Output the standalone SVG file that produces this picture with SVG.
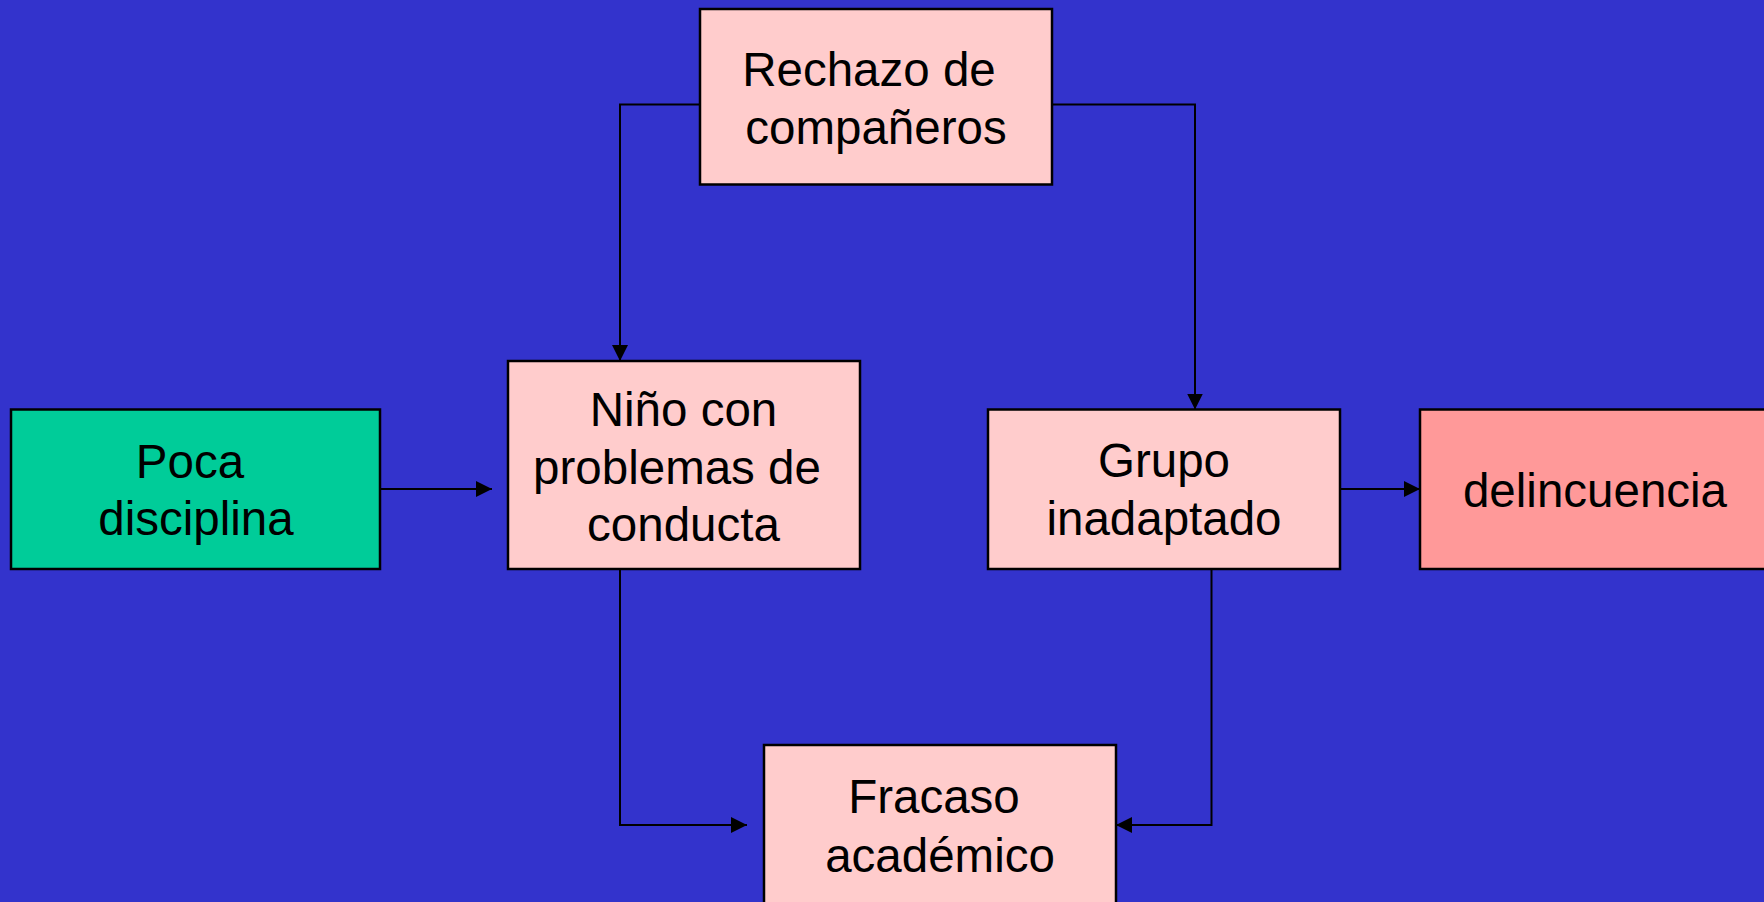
<svg xmlns="http://www.w3.org/2000/svg" width="1764" height="902" viewBox="0 0 1764 902">
<style>
.box{stroke:#000;stroke-width:2.5}
.pink{fill:#FFCCCC}
.green{fill:#00CC99}
.red{fill:#FF9999}
.lbl{font-family:"Liberation Sans",Arial,sans-serif;font-size:47.5px;fill:#000;text-anchor:middle}
.conn{fill:none;stroke:#000;stroke-width:2;marker-end:url(#arr)}
</style>
<defs>
<marker id="arr" markerUnits="userSpaceOnUse" markerWidth="16" markerHeight="16" refX="16" refY="8" orient="auto">
<path d="M0,0 L16,8 L0,16 z" fill="#000"/>
</marker>
</defs>
<rect x="0" y="0" width="1764" height="902" fill="#3333CC"/>
<g id="connectors">
<path class="conn" d="M700,104.5 H620 V361"/>
<path class="conn" d="M1052,104.5 H1195 V409.5"/>
<path class="conn" d="M380,489 H492"/>
<path class="conn" d="M1340,489 H1420"/>
<path class="conn" d="M620,569 V825 H747"/>
<path class="conn" d="M1211.5,569 V825 H1116"/>
</g>
<g id="rechazo">
<rect class="box pink" x="700" y="9" width="352" height="175.5"/>
<text class="lbl" x="869" y="86">Rechazo de</text>
<text class="lbl" x="876" y="144">compañeros</text>
</g>
<g id="nino">
<rect class="box pink" x="508" y="361" width="352" height="208"/>
<text class="lbl" x="683.5" y="426">Niño con</text>
<text class="lbl" x="677" y="483.5">problemas de</text>
<text class="lbl" x="683.5" y="541">conducta</text>
</g>
<g id="poca">
<rect class="box green" x="11" y="409.5" width="369" height="159.5"/>
<text class="lbl" x="190" y="478">Poca</text>
<text class="lbl" x="196" y="535">disciplina</text>
</g>
<g id="grupo">
<rect class="box pink" x="988" y="409.5" width="352" height="159.5"/>
<text class="lbl" x="1164" y="477">Grupo</text>
<text class="lbl" x="1164" y="535">inadaptado</text>
</g>
<g id="delincuencia">
<rect class="box red" x="1420" y="409.5" width="360" height="159.5"/>
<text class="lbl" x="1595" y="507">delincuencia</text>
</g>
<g id="fracaso">
<rect class="box pink" x="764" y="745" width="352" height="170"/>
<text class="lbl" x="934" y="813">Fracaso</text>
<text class="lbl" x="940" y="871.5">académico</text>
</g>
</svg>
